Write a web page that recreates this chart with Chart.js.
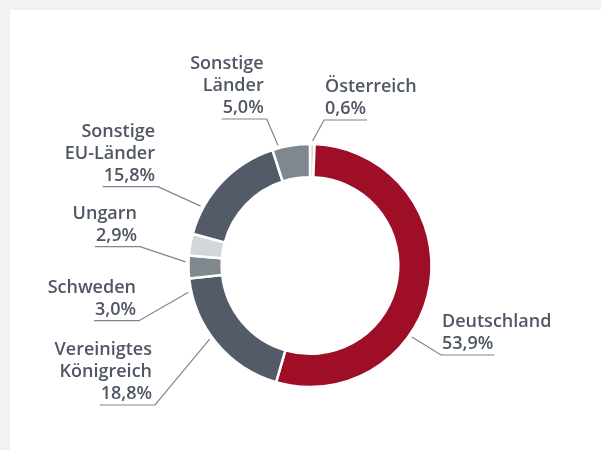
<!DOCTYPE html>
<html lang="de">
<head>
<meta charset="utf-8">
<title>Anteile nach Ländern</title>
<script src="https://cdn.jsdelivr.net/npm/chart.js@4"></script>
<style>
  html, body { margin: 0; padding: 0; background: #f2f2f2; }
  #panel {
    position: absolute; left: 10px; top: 10px;
    width: 591px; height: 440px; background: #ffffff;
  }
</style>
</head>
<body>
<div id="panel"><canvas id="shareChart"></canvas></div>
<script>
// ------------------- Data ------------------- //

// Countries, clockwise from 12 o'clock
const countries = [
  ["Österreich"],
  ["Deutschland"],
  ["Vereinigtes", "Königreich"],
  ["Schweden"],
  ["Ungarn"],
  ["Sonstige", "EU-Länder"],
  ["Sonstige", "Länder"]
];
const shares = [0.6, 53.9, 18.8, 3.0, 2.9, 15.8, 5.0];
const sliceColors = ["#d3d6da", "#9f0e27", "#535a68", "#7f878f", "#d3d6da", "#535a68", "#7f878f"];

// Label placement: where the leader touches the ring (degrees from top),
// and the elbow point relative to the chart centre
const labelLayout = [
  { angle: 1.2,   side: "right", dx: 14,   dy: -145.5 },
  { angle: 125,   side: "right", dx: 131,  dy: 89.5 },
  { angle: 233.7, side: "left",  dx: -155, dy: 139.5 },
  { angle: 257.6, side: "left",  dx: -171, dy: 55.2 },
  { angle: 271.7, side: "left",  dx: -170, dy: -18.8 },
  { angle: 298.5, side: "left",  dx: -152, dy: -78.8 },
  { angle: 345.1, side: "left",  dx: -43.3, dy: -146.5 }
];

// ------------------- Helpers ------------------- //

// 53.9 -> "53,9%"
function pct(v) {
  return v.toFixed(1).replace(".", ",") + "%";
}

// Draw the labels with their leader lines
const leaderLabels = {
  id: "leaderLabels",
  afterDraw(chart) {
    const ctx = chart.ctx;
    const arcs = chart.getDatasetMeta(0).data;
    const lineH = 22;

    ctx.save();
    ctx.font = "600 18px 'Open Sans', sans-serif";
    ctx.textBaseline = "alphabetic";

    arcs.forEach((arc, i) => {
      const lay = labelLayout[i];
      const cx = arc.x, cy = arc.y;
      const r = arc.outerRadius + 3;
      const a = lay.angle * Math.PI / 180;
      const sx = cx + r * Math.sin(a);
      const sy = cy - r * Math.cos(a);
      const ex = cx + lay.dx;
      const ey = cy + lay.dy;

      const lines = countries[i].concat([pct(shares[i])]);
      const valW = ctx.measureText(lines[lines.length - 1]).width;

      // leader + underline
      let ux;
      if (lay.side === "right") ux = ex + valW + 2;
      else ux = ex - valW - 4;
      ctx.strokeStyle = "#7d8690";
      ctx.lineWidth = 1.2;
      ctx.beginPath();
      ctx.moveTo(sx, sy);
      ctx.lineTo(ex, ey);
      ctx.lineTo(ux, ey);
      ctx.stroke();

      // text
      ctx.fillStyle = "#4f5664";
      ctx.textAlign = lay.side === "right" ? "left" : "right";
      const tx = lay.side === "right" ? ex + 1 : ex - 3;
      const baseY = ey - 6;
      lines.forEach((t, k) => {
        ctx.fillText(t, tx, baseY - (lines.length - 1 - k) * lineH);
      });
    });
    ctx.restore();
  }
};

// ------------------- Chart ------------------- //
const ctx = document.getElementById("shareChart").getContext("2d");
new Chart(ctx, {
  type: "doughnut",
  data: {
    labels: countries.map(c => c.join(" ")),
    datasets: [
      {
        data: shares,
        backgroundColor: sliceColors,
        borderColor: "#ffffff",
        borderWidth: 2.5
      }
    ]
  },
  options: {
    responsive: true,
    maintainAspectRatio: false,
    animation: false,
    radius: 121.5,
    cutout: "72.7%",
    layout: { padding: { left: 20, right: 11, top: 81, bottom: 10 } },
    plugins: {
      legend: { display: false },
      tooltip: { enabled: false }
    }
  },
  plugins: [leaderLabels]
});
</script>
</body>
</html>
